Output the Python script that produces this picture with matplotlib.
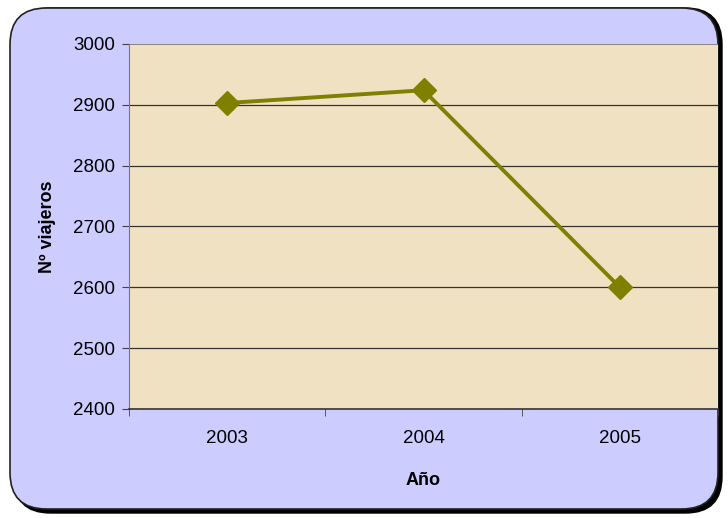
import matplotlib
matplotlib.use("Agg")
import matplotlib.pyplot as plt
from matplotlib.patches import FancyBboxPatch

years = ["2003", "2004", "2005"]
viajeros = [2903, 2924, 2600]
y_ticks = [2400, 2500, 2600, 2700, 2800, 2900, 3000]

plt.rcParams["font.family"] = ["Liberation Sans", "DejaVu Sans"]

W, H = 728, 518
fig = plt.figure(figsize=(W / 100, H / 100), dpi=100)
fig.patch.set_facecolor("white")

# rounded lavender frame with a dark shadow
shadow = FancyBboxPatch((14 / W, 5 / H), 708 / W, 505 / H,
                        boxstyle="round,pad=0,rounding_size=0.05",
                        transform=fig.transFigure, facecolor="black",
                        edgecolor="black", zorder=0, mutation_aspect=W / H)
frame = FancyBboxPatch((10 / W, 9 / H), 708 / W, 501 / H,
                       boxstyle="round,pad=0,rounding_size=0.05",
                       transform=fig.transFigure, facecolor="#CCCCFF",
                       edgecolor="#222222", linewidth=1.2, zorder=1,
                       mutation_aspect=W / H)
fig.patches.extend([shadow, frame])

ax = fig.add_axes([129 / W, 1 - 409 / H, (718 - 129) / W, (409 - 44) / H])
ax.set_facecolor("#EFE1C2")
ax.set_zorder(2)

x = list(range(len(years)))
ax.plot(x, viajeros, color="#808000", linewidth=2.8, marker="D",
        markersize=12, zorder=3)

ax.set_xlim(-0.5, 2.5)
ax.set_ylim(2400, 3000)
ax.set_yticks(y_ticks)
ax.set_yticklabels([str(v) for v in y_ticks], fontsize=13.5)
ax.set_xticks(x)
ax.set_xticklabels(years, fontsize=13.5)
ax.set_xticks([-0.5, 0.5, 1.5, 2.5], minor=True)
ax.tick_params(axis="x", which="major", length=0, pad=15)
ax.tick_params(axis="x", which="minor", length=5, direction="out", color="#444444")
ax.tick_params(axis="y", length=5, direction="out", color="#444444", pad=5)

for v in y_ticks[1:-1]:
    ax.axhline(v, color="#333333", linewidth=0.9, zorder=2)

for side in ["top", "right"]:
    ax.spines[side].set_visible(False)
ax.axhline(3000, color="#777777", linewidth=1.2, zorder=2)
ax.spines["left"].set_color("#777777")
ax.spines["bottom"].set_color("#333333")
ax.spines["bottom"].set_linewidth(1.2)

ax.set_ylabel("Nº viajeros", fontsize=13, fontweight="bold", labelpad=12)
ax.set_xlabel("Año", fontsize=13, fontweight="bold", labelpad=18)

fig.savefig("out.png", dpi=100)
